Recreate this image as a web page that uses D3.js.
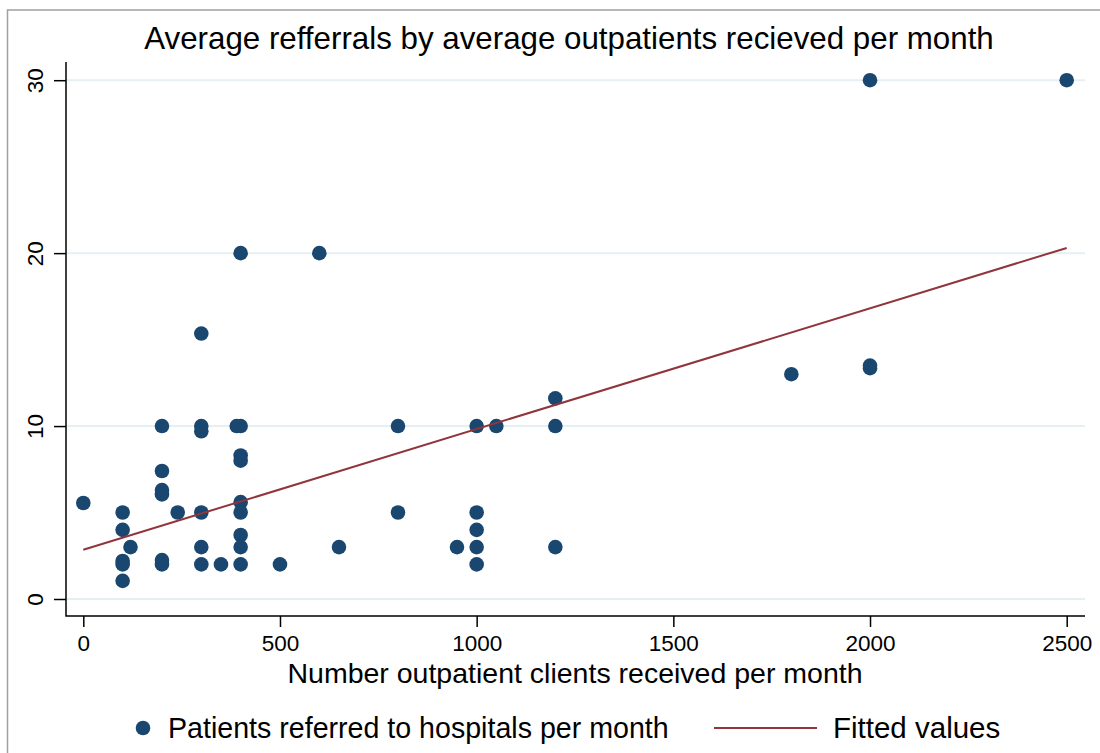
<!DOCTYPE html>
<html>
<head>
  <meta charset="utf-8">
  <title>Average refferrals by average outpatients</title>
  <style>
    html, body { margin: 0; padding: 0; background: #fff; }
    svg { display: block; font-family: "Liberation Sans", Arial, sans-serif; }
    .grid line { stroke: #e6eff1; stroke-width: 2px; }
    .tick line { stroke: #000; stroke-width: 1.5px; }
  </style>
</head>
<body>
<div id="chart"></div>
<script src="https://d3js.org/d3.v7.min.js"></script>
<script>
  // Data
  const outpatients = [
    0,
    100, 100, 100, 100, 100,
    120,
    200, 200, 200, 200, 200, 200,
    240,
    300, 300, 300, 300, 300, 300,
    350,
    390, 400, 400, 400, 400, 400, 400, 400, 400, 400,
    500, 600, 650,
    800, 800,
    950,
    1000, 1000, 1000, 1000, 1000,
    1050,
    1200, 1200, 1200,
    1800,
    2000, 2000, 2000,
    2500
  ];
  const referrals = [
    5.55,
    5, 4, 2.2, 2, 1.05,
    3,
    10, 7.4, 6.3, 6.05, 2.25, 2,
    5,
    15.35, 10, 9.7, 5, 3, 2,
    2,
    10, 10, 20, 8.3, 8, 5.6, 5, 3.7, 3, 2,
    2, 20, 3,
    10, 5,
    3,
    10, 5, 4, 3, 2,
    10,
    11.6, 10, 3,
    13,
    30, 13.5, 13.35,
    30
  ];
  const fitX = [0, 2500];
  const fitY = [2.85, 20.3];
  const xTicks = [0, 500, 1000, 1500, 2000, 2500];
  const yTicks = [0, 10, 20, 30];

  const W = 1100, H = 753;
  const navy = "#1a476f", maroon = "#90353b";

  const svg = d3.select("#chart").append("svg")
    .attr("width", W).attr("height", H);

  // outer frame (only top/left visible in the picture)
  svg.append("path")
    .attr("d", "M 7.5 760 L 7.5 10 L 1110 10")
    .attr("fill", "none").attr("stroke", "#a0a0a0").attr("stroke-width", 1.5);

  const x = d3.scaleLinear().domain([0, 2500]).range([83.3, 1066.7]);
  const y = d3.scaleLinear().domain([0, 30]).range([599, 80.2]);
  const plotLeft = 66, plotRight = 1085, plotTop = 62, plotBottom = 616;

  // gridlines
  svg.append("g").attr("class", "grid")
    .selectAll("line").data(yTicks).join("line")
    .attr("x1", plotLeft).attr("x2", plotRight)
    .attr("y1", d => y(d)).attr("y2", d => y(d));

  // y axis
  const yAxis = svg.append("g")
    .attr("transform", `translate(${plotLeft},0)`)
    .call(d3.axisLeft(y).tickValues(yTicks).tickSize(12).tickSizeOuter(0).tickFormat(d3.format("d")));
  yAxis.select(".domain").remove();
  yAxis.selectAll(".tick text")
    .attr("x", null).attr("dy", null)
    .attr("transform", "translate(-23,0) rotate(-90)")
    .attr("text-anchor", "middle")
    .attr("font-size", 22.5).attr("font-family", "Liberation Sans, Arial, sans-serif")
    .attr("fill", "#000");

  // x axis
  const xAxis = svg.append("g")
    .attr("transform", `translate(0,${plotBottom})`)
    .call(d3.axisBottom(x).tickValues(xTicks).tickSize(11).tickSizeOuter(0).tickFormat(d3.format("d")));
  xAxis.select(".domain").remove();
  xAxis.selectAll(".tick text")
    .attr("y", 35).attr("dy", null)
    .attr("font-size", 22.5).attr("font-family", "Liberation Sans, Arial, sans-serif")
    .attr("fill", "#000");

  // axis lines
  svg.append("path")
    .attr("d", `M ${plotLeft} ${plotTop} L ${plotLeft} ${plotBottom} L ${plotRight} ${plotBottom}`)
    .attr("fill", "none").attr("stroke", "#000").attr("stroke-width", 1.5);

  // points
  const pts = outpatients.map((v, i) => ({ x: v, y: referrals[i] }));
  svg.append("g").selectAll("circle").data(pts).join("circle")
    .attr("cx", d => x(d.x)).attr("cy", d => y(d.y))
    .attr("r", 7.3).attr("fill", navy);

  // fitted line
  const fit = fitX.map((v, i) => [v, fitY[i]]);
  svg.append("path")
    .attr("d", d3.line().x(d => x(d[0])).y(d => y(d[1]))(fit))
    .attr("fill", "none").attr("stroke", maroon).attr("stroke-width", 2);

  // title
  svg.append("text")
    .attr("x", 569).attr("y", 48.5)
    .attr("text-anchor", "middle").attr("font-size", 31.3)
    .text("Average refferrals by average outpatients recieved per month");

  // x axis title
  svg.append("text")
    .attr("x", 575).attr("y", 683)
    .attr("text-anchor", "middle").attr("font-size", 28.5)
    .text("Number outpatient clients received per month");

  // legend
  const legY = 728;
  svg.append("circle").attr("cx", 143).attr("cy", legY).attr("r", 7.3).attr("fill", navy);
  svg.append("text").attr("x", 168).attr("y", legY + 9.5).attr("font-size", 28.6)
    .text("Patients referred to hospitals per month");
  svg.append("line").attr("x1", 714).attr("x2", 817).attr("y1", legY).attr("y2", legY)
    .attr("stroke", maroon).attr("stroke-width", 2);
  svg.append("text").attr("x", 833).attr("y", legY + 9.5).attr("font-size", 29.5)
    .text("Fitted values");
</script>
</body>
</html>
